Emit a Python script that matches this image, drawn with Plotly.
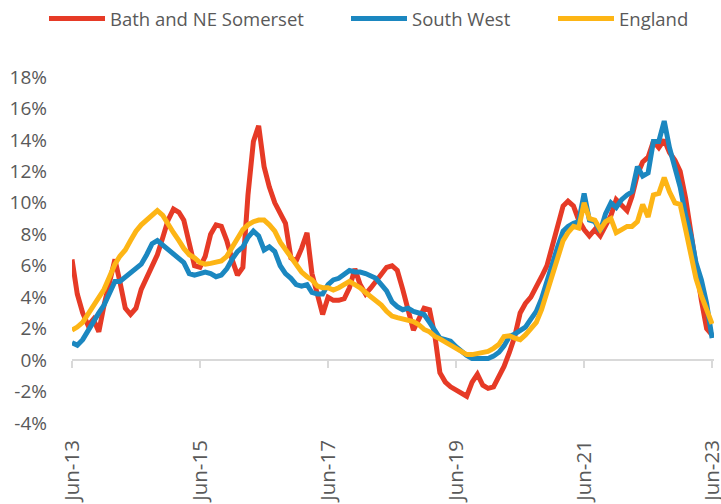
import pandas as pd
import plotly.graph_objects as go

months = pd.date_range("2013-06-01", "2023-06-01", freq="MS")

bath = [6.4, 4.2, 3.0, 2.2, 2.6, 1.8, 3.5, 5.0, 6.4, 5.0,
        3.3, 2.9, 3.3, 4.5, 5.2, 6.0, 6.7, 7.8, 8.9, 9.6,
        9.4, 8.9, 7.5, 6.0, 5.9, 6.6, 8.0, 8.6, 8.5, 7.6,
        6.4, 5.4, 5.9, 10.5, 13.9, 14.9, 12.3, 11.0, 10.0, 9.3,
        8.7, 6.5, 6.3, 7.1, 8.1, 5.5, 4.0, 2.9, 4.0, 3.8,
        3.8, 3.9, 4.6, 5.8, 4.8, 4.2, 4.6, 5.0, 5.5, 5.9,
        6.0, 5.7, 4.5, 3.2, 1.9, 2.6, 3.3, 3.2, 1.5, -0.8,
        -1.4, -1.7, -1.9, -2.1, -2.3, -1.4, -0.9, -1.6, -1.8, -1.7,
        -1.0, -0.4, 0.5, 1.5, 3.0, 3.6, 4.0, 4.6, 5.3, 6.0,
        7.2, 8.6, 9.8, 10.1, 9.8, 8.9, 8.3, 7.9, 8.3, 7.9,
        8.5, 9.2, 10.2, 9.8, 9.5, 10.4, 11.8, 12.6, 12.9, 13.9,
        13.5, 14.0, 13.2, 12.7, 12.0, 10.3, 8.0, 6.0, 3.8, 2.0,
        1.6]

south_west = [1.1, 0.95, 1.3, 1.9, 2.5, 3.0, 3.5, 4.3, 5.0, 5.0,
              5.3, 5.6, 5.8, 6.1, 6.7, 7.4, 7.6, 7.3, 7.0, 6.8,
              6.5, 6.2, 5.5, 5.4, 5.5, 5.6, 5.5, 5.3, 5.4, 5.8,
              6.4, 6.9, 7.2, 7.8, 8.2, 7.9, 7.0, 7.2, 6.9, 6.0,
              5.5, 5.2, 4.8, 4.7, 4.8, 4.3, 4.2, 4.2, 4.8, 5.1,
              5.2, 5.5, 5.7, 5.6, 5.6, 5.5, 5.3, 5.2, 4.8, 4.4,
              3.7, 3.4, 3.2, 3.3, 3.1, 3.0, 2.9, 2.4, 1.9, 1.4,
              1.3, 1.2, 0.85, 0.55, 0.3, 0.1, 0.08, 0.06, 0.1, 0.25,
              0.5, 0.9, 1.5, 1.65, 1.85, 2.1, 2.6, 3.1, 3.9, 5.0,
              6.3, 7.2, 8.2, 8.5, 8.7, 8.8, 10.6, 8.9, 8.8, 8.2,
              9.3, 10.0, 9.7, 10.2, 10.5, 10.7, 12.3, 11.7, 11.9, 13.9,
              13.9, 15.2, 13.5, 12.1, 11.0, 9.2, 7.9, 6.2, 5.1, 3.6,
              1.4]

england = [1.9, 2.1, 2.4, 2.9, 3.4, 3.9, 4.5, 5.3, 6.1, 6.6,
           7.0, 7.6, 8.2, 8.6, 8.9, 9.2, 9.5, 9.2, 8.6, 8.1,
           7.6, 7.1, 6.7, 6.5, 6.2, 6.1, 6.15, 6.2, 6.3, 6.6,
           7.2, 7.8, 8.3, 8.6, 8.8, 8.9, 8.9, 8.6, 8.2, 7.5,
           7.0, 6.5, 6.1, 5.6, 5.3, 5.1, 4.7, 4.6, 4.6, 4.45,
           4.6, 4.8, 5.0, 4.8, 4.6, 4.3, 4.0, 3.8, 3.5, 3.1,
           2.8, 2.7, 2.6, 2.55, 2.45, 2.25, 1.95, 1.8, 1.5, 1.35,
           1.15, 1.0, 0.75, 0.55, 0.35, 0.35, 0.4, 0.45, 0.55, 0.75,
           1.0, 1.5, 1.55, 1.4, 1.3, 1.6, 2.0, 2.4, 3.2, 4.3,
           5.6, 6.5, 7.6, 8.1, 8.5, 8.4, 10.0, 9.0, 8.9, 8.3,
           8.8, 9.0, 8.1, 8.3, 8.5, 8.5, 8.8, 9.9, 9.1, 10.5,
           10.6, 11.6, 10.7, 10.0, 9.9, 8.3, 6.6, 5.2, 4.1, 3.1,
           2.3]

series_names = ["Bath and NE Somerset", "South West", "England"]
series_colors = ["#E63A26", "#1B87C0", "#FDB515"]
y_ticks = [-4, -2, 0, 2, 4, 6, 8, 10, 12, 14, 16, 18]

FONT = "Open Sans"
GREY = "#595959"
FS = 19

W, H = 721, 504
legend_ids = ["legend", "legend2", "legend3"]
legend_left_px = [44, 346, 553]   # left edge of each legend entry (pixels)

fig = go.Figure()
for name, vals, col, lid in zip(series_names, [bath, south_west, england],
                                series_colors, legend_ids):
    fig.add_trace(go.Scatter(
        x=months, y=[v / 100 for v in vals], name=name, mode="lines",
        line=dict(color=col, width=5), legend=lid,
    ))

# helper trace for the zero-line axis
fig.add_trace(go.Scatter(x=[months[0]], y=[None], xaxis="x2", showlegend=False,
                         hoverinfo="skip"))

x_start = pd.Timestamp("2013-06-01")
x_end = pd.Timestamp("2023-06-12")

legend_common = dict(orientation="h", xref="container", yref="container",
                     xanchor="left", yanchor="middle", y=1 - 19 / H,
                     itemwidth=56,
                     font=dict(size=18.5, color=GREY, family=FONT),
                     bgcolor="rgba(0,0,0,0)", borderwidth=0)

layout_legends = {}
for lid, px in zip(legend_ids, legend_left_px):
    layout_legends[lid] = dict(legend_common, x=px / W)

fig.update_layout(
    width=W, height=H,
    margin=dict(l=72, r=7, t=77, b=81, autoexpand=False),
    paper_bgcolor="white", plot_bgcolor="white",
    font=dict(family=FONT, size=FS, color=GREY),
    showlegend=True,
    xaxis=dict(
        type="date",
        range=[x_start, x_end], showgrid=False, zeroline=False, showline=False,
        ticks="", tickformat="%b-%y", dtick="M24", tick0="2013-06-01",
        tickangle=-90, ticklabelstandoff=12, automargin=False,
        ticklabeloverflow="allow",
        tickfont=dict(size=20.5, color=GREY),
    ),
    xaxis2=dict(
        type="date",
        range=[x_start, x_end], overlaying="x", anchor="free",
        position=4 / 22, showgrid=False, zeroline=False,
        showline=True, linecolor="#D9D9D9", linewidth=2,
        ticks="outside", ticklen=7, tickwidth=2, tickcolor="#D9D9D9",
        dtick="M24", tick0="2013-06-01", showticklabels=False,
        layer="below traces", automargin=False,
    ),
    yaxis=dict(
        range=[-0.04, 0.18], tickvals=[t / 100 for t in y_ticks],
        ticktext=[f"{t}%" for t in y_ticks], showgrid=False, zeroline=False,
        showline=False, ticks="", ticklabelstandoff=24, automargin=False,
        tickfont=dict(size=FS, color=GREY),
    ),
    **layout_legends,
)

fig.write_html("out.html", config={"displayModeBar": False},
               post_script="document.body.style.margin='0';")
